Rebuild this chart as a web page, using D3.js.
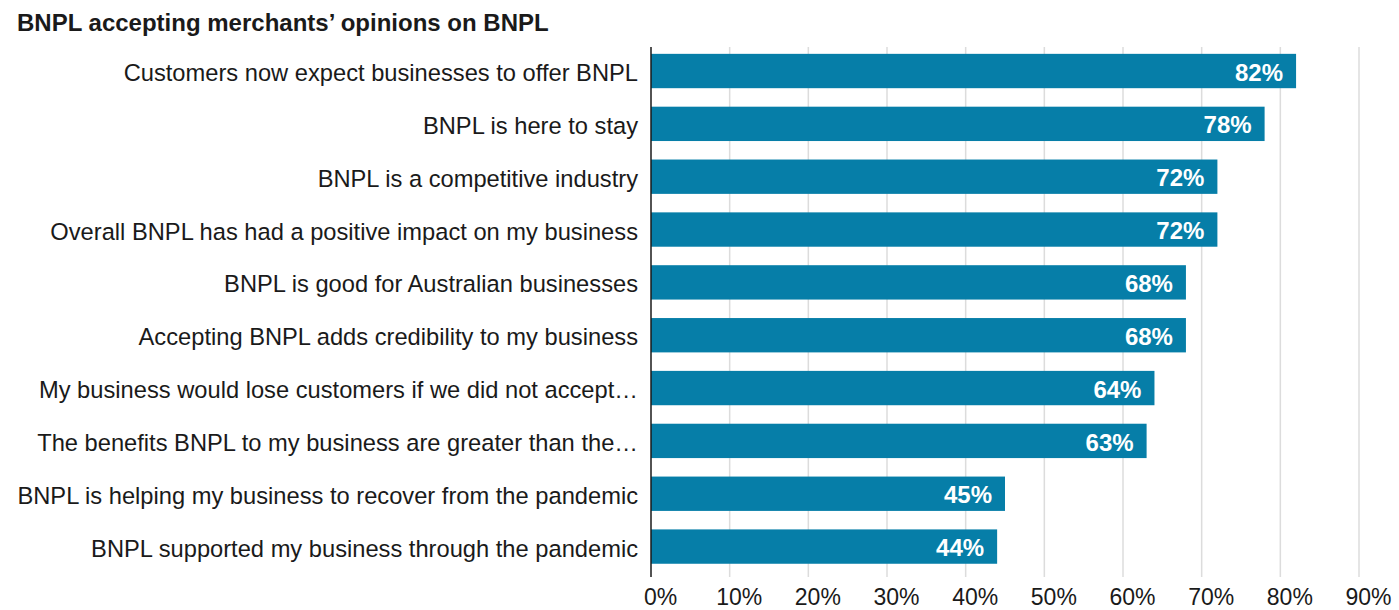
<!DOCTYPE html>
<html>
<head>
<meta charset="utf-8">
<script src="https://cdn.jsdelivr.net/npm/d3@7"></script>
<style>
  html, body { margin: 0; padding: 0; background: #fff; }
  svg { display: block; font-family: "Liberation Sans", Arial, Helvetica, sans-serif; }
</style>
</head>
<body>
<svg id="chart" width="1399" height="610"></svg>
<script>
// Survey statements and share of merchants agreeing (%)
const categories = [
  "Customers now expect businesses to offer BNPL",
  "BNPL is here to stay",
  "BNPL is a competitive industry",
  "Overall BNPL has had a positive impact on my business",
  "BNPL is good for Australian businesses",
  "Accepting BNPL adds credibility to my business",
  "My business would lose customers if we did not accept…",
  "The benefits BNPL to my business are greater than the…",
  "BNPL is helping my business to recover from the pandemic",
  "BNPL supported my business through the pandemic"
];
const values = [82, 78, 72, 72, 68, 68, 64, 63, 45, 44];
const tickValues = [0, 10, 20, 30, 40, 50, 60, 70, 80, 90];
const titleText = "BNPL accepting merchants\u2019 opinions on BNPL";

const svg = d3.select("#chart");

const x = d3.scaleLinear().domain([0, 90]).range([651, 1359]);
const y = d3.scaleBand().domain(categories).range([44.6, 573]).paddingInner(0.35).paddingOuter(0.175);

// Title
svg.append("text")
  .attr("x", 17).attr("y", 31)
  .attr("font-size", 24).attr("font-weight", "bold").attr("fill", "#1a1a1a")
  .text(titleText);

// Vertical gridlines
svg.append("g").selectAll("line")
  .data(tickValues.filter(d => d > 0))
  .join("line")
  .attr("x1", d => x(d)).attr("x2", d => x(d))
  .attr("y1", 47).attr("y2", 577)
  .attr("stroke", "#dcdcdc").attr("stroke-width", 1.5);

// Bars
svg.append("g").selectAll("rect")
  .data(values)
  .join("rect")
  .attr("x", x(0))
  .attr("y", (d, i) => y(categories[i]))
  .attr("width", d => x(d) - x(0))
  .attr("height", y.bandwidth())
  .attr("fill", "#067ea8");

// Value labels inside bars
svg.append("g").selectAll("text")
  .data(values)
  .join("text")
  .attr("x", d => x(d) - 13)
  .attr("y", (d, i) => y(categories[i]) + y.bandwidth() / 2)
  .attr("dy", "0.4em")
  .attr("text-anchor", "end")
  .attr("font-size", 24).attr("font-weight", "bold").attr("fill", "#fff")
  .text(d => d + "%");

// Category axis
const yAxis = d3.axisLeft(y).tickSize(0).tickPadding(13);
const gy = svg.append("g").attr("transform", `translate(${x(0)},0)`).call(yAxis);
gy.select(".domain").remove();
gy.selectAll("text").attr("font-size", 23.7).attr("fill", "#1a1a1a").attr("font-family", null)
  .attr("dy", "0.42em");

// Axis baseline
svg.append("line")
  .attr("x1", x(0)).attr("x2", x(0))
  .attr("y1", 47).attr("y2", 577)
  .attr("stroke", "#1a1a1a").attr("stroke-width", 1.5);

// Percentage axis
const xAxis = d3.axisBottom(x).tickValues(tickValues).tickFormat(d => d + "%").tickSize(0).tickPadding(0);
const gx = svg.append("g").attr("transform", "translate(0,577)").call(xAxis);
gx.select(".domain").remove();
gx.selectAll("text").attr("font-size", 23).attr("fill", "#1a1a1a").attr("font-family", null)
  .attr("dx", 9).attr("dy", null).attr("y", 28);
</script>
</body>
</html>
